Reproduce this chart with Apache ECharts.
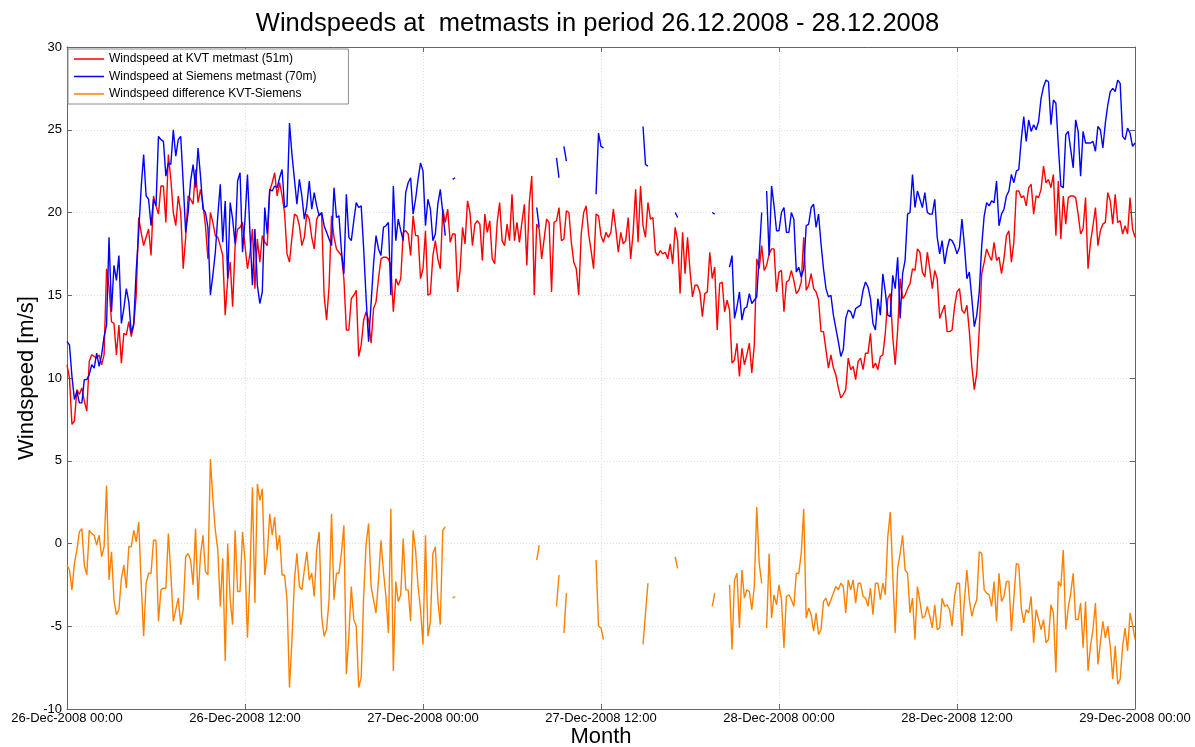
<!DOCTYPE html>
<html>
<head>
<meta charset="utf-8">
<script src="https://cdn.jsdelivr.net/npm/echarts@6/dist/echarts.min.js"></script>
<style>
  html, body { margin: 0; padding: 0; background: #fff; }
  #chart { width: 1195px; height: 747px; }
</style>
</head>
<body>
<div id="chart"></div>
<script>
// 10-minute wind speed samples, 26.12.2008 00:00 to 29.12.2008 00:00 (433 samples)
const _ = null; // missing sample
const sampleHours = 1 / 6;

const xTickLabels = ['26-Dec-2008 00:00', '26-Dec-2008 12:00', '27-Dec-2008 00:00',
  '27-Dec-2008 12:00', '28-Dec-2008 00:00', '28-Dec-2008 12:00', '29-Dec-2008 00:00'];

const seriesNames = ['Windspeed at KVT metmast (51m)', 'Windspeed at Siemens metmast (70m)',
  'Windspeed difference KVT-Siemens'];

// KVT metmast, 51 m
const kvt = [
  10.8,10.0,7.2,7.4,9.3,9.0,9.4,8.6,8.0,11.0, 11.4,11.3,11.2,11.4,10.8,11.4,16.6,15.5,13.4,13.3,
  11.4,13.2,10.9,12.7,12.6,13.4,12.5,13.2,15.0,19.7, 18.8,18.0,18.5,19.0,17.4,21.0,20.4,19.9,21.6,21.6,
  19.4,23.5,22.0,20.0,19.2,21.0,20.0,16.6,18.5,21.0, 20.8,20.5,22.6,20.6,21.4,20.5,19.2,17.2,20.0,19.4,
  18.6,18.5,18.0,17.4,13.8,16.0,17.0,14.3,18.0,19.0, 19.1,19.4,
  18.0,16.6,17.5,19.0,15.4,18.4,17.0,18.6,18.2,18.0, 21.3,21.8,22.4,21.0,21.8,21.0,20.0,17.5,17.0,18.5,
  19.9,19.8,19.2,18.0,18.5,19.9,19.6,18.5,17.8,19.6, 19.9,19.9,15.0,13.5,15.5,19.8,18.5,17.8,17.6,17.4,
  16.0,12.9,12.9,14.8,15.0,15.3,11.3,12.0,13.5,14.0, 13.5,12.1,14.2,14.6,16.0,17.2,17.3,17.3,17.2,16.8,
  14.0,16.0,15.6,16.0,18.8,18.9,18.7,17.4,19.8,18.6, 18.6,16.0,
  16.6,18.9,15.0,15.1,17.4,18.3,17.2,16.6,20.2,19.4, 20.2,18.2,18.7,18.7,15.2,16.5,19.1,18.1,20.7,20.0,
  18.0,19.3,19.5,19.3,17.1,19.9,18.8,19.5,17.2,16.9, 19.4,20.6,18.3,18.0,19.3,18.3,21.1,18.3,19.4,18.2,
  19.4,20.5,16.8,20.6,22.2,15.0,19.3,19.0,17.2,18.4, 19.6,19.4,15.2,19.4,19.5,20.3,18.3,18.4,20.1,20.0,
  18.2,17.0,16.6,15.0,18.7,20.0,20.4,18.7,17.7,16.6, 19.9,19.8,
  18.6,18.2,18.8,18.5,18.8,20.2,19.0,17.6,18.8,18.1, 18.3,19.7,17.2,18.8,21.4,18.2,21.6,19.2,18.5,20.6,
  19.6,19.7,17.6,17.4,17.7,17.5,17.6,17.2,18.1,16.9, 19.1,18.3,15.1,18.8,16.3,18.5,16.5,14.9,15.6,15.6,
  15.2,13.7,15.1,15.2,17.6,16.0,16.7,12.9,15.7,15.8, 14.0,14.7,14.1,10.9,11.1,12.1,10.1,11.8,10.8,11.4,
  12.1,10.3,12.0,17.2,16.6,18.0,16.5,16.8,17.5,17.8, 17.8,15.2,
  16.4,16.5,14.0,15.8,15.9,16.5,15.9,15.1,15.3,15.8, 18.5,15.3,15.6,16.3,15.4,15.2,14.7,12.8,12.8,11.7,
  10.6,11.4,10.6,10.2,9.4,8.8,9.0,9.3,11.2,10.5, 10.7,9.9,11.0,11.2,10.5,11.5,11.5,12.7,10.6,10.9,
  10.5,11.3,11.4,12.7,14.8,15.1,12.5,10.8,12.9,16.0, 14.8,15.0,15.4,15.7,16.6,16.5,17.8,17.6,16.4,16.1,
  17.6,16.6,15.4,16.5,16.0,13.6,14.0,14.4,12.8,12.8, 12.9,14.3,
  15.2,15.4,14.1,13.9,14.4,12.8,10.7,9.3,10.3,12.9, 16.3,17.0,17.8,17.4,17.1,18.2,17.1,17.3,16.3,17.2,
  18.6,18.9,17.0,18.2,21.3,21.3,20.9,21.0,20.4,21.5, 21.7,19.9,21.0,20.9,21.4,22.8,21.8,22.0,21.5,22.3,
  18.6,21.9,18.4,21.0,19.3,20.9,21.0,21.0,20.9,19.9, 18.7,19.0,20.9,16.6,18.2,19.2,20.3,18.0,18.9,19.3,
  19.4,21.2,20.7,19.3,21.1,19.4,19.5,18.7,19.2,18.7, 20.9,19.0,18.5
];

// Siemens metmast, 70 m
const siemens = [
  12.2,12.0,10.1,8.7,9.2,8.5,8.5,9.9,9.9,10.2, 10.8,10.6,11.5,10.7,11.4,12.5,13.2,18.5,14.0,16.8,
  15.9,17.4,13.3,14.2,15.4,14.6,12.7,13.3,16.5,18.8, 21.5,23.5,21.0,20.8,19.2,20.8,20.4,24.6,24.4,24.3,
  22.2,23.0,22.9,25.0,23.4,24.4,24.6,21.8,18.8,20.0, 21.9,22.9,21.5,23.9,22.2,20.2,20.0,19.1,15.0,16.2,
  17.6,19.8,21.7,18.2,20.7,16.0,20.6,19.6,18.1,21.9, 22.4,17.6,
  19.6,22.3,18.8,15.6,19.0,15.6,14.5,15.2,20.3,18.7, 21.4,21.3,21.6,21.5,22.1,22.6,20.3,20.4,25.4,23.5,
  22.0,20.5,22.0,21.0,19.6,20.4,21.9,20.2,21.2,20.4, 19.8,20.0,19.2,18.8,18.4,18.0,21.5,19.7,19.8,17.7,
  16.3,21.1,18.5,18.3,19.5,20.6,20.3,20.4,17.8,14.8, 12.2,14.5,16.9,18.6,17.8,17.4,19.1,19.2,19.4,15.0,
  21.6,18.3,19.6,18.9,18.3,21.2,21.8,22.1,19.9,20.8, 22.0,23.0,
  22.5,19.2,20.8,20.2,18.3,18.7,20.5,21.4,20.0,18.6, _,_, 22.0,22.1,
  _,_,_,_,_,_,_,_,_,_, _,_,_,_,_,_,_,_,_,_, _,_,_,_,_,_,_,_,_,_, _,_,
  20.3,19.1, _,_,_,_,_,_, 23.3,22.1, _, 24.0,23.1, _,_,_,_,_,_,_,_,_,_,_, 21.1,24.8,
  24.0,23.9, _,_,_,_,_,_,_,_,_,_,_,_,_,_,_, 25.2,22.9,22.8, _,_,_,_,_,_,_,_,_,_,
  20.0,19.7, _,_,_,_,_,_,_,_,_,_,_,_,_, 20.0,19.9, _,_,_,_,_,
  16.7,17.4,13.6,14.3,15.2,13.5,14.2,14.3,15.1,14.5,14.7,14.9,17.4,20.0, _, 21.3,17.4,21.6,20.4,18.9,
  18.9,20.0,20.3,18.8,18.8,20.0,19.6,16.4,16.7,16.1, 16.6,19.2,19.3,20.3,20.5,19.1,19.9,18.1,16.6,15.4,
  14.9,15.0,13.8,13.0,12.2,11.3,11.7,13.6,14.1,14.0, 13.6,14.2,14.3,14.4,15.3,15.8,15.5,14.8,13.3,12.9,
  14.8,13.8,16.3,15.2,13.8,13.7,16.2,15.4,17.3,13.6, 16.3,17.1,19.9,20.0,22.3,20.3,21.3,20.8,20.3,21.2,
  20.0,19.9,19.9,20.8,18.5,17.5,18.3,16.9,17.8,18.4, 18.3,18.0,
  17.5,17.9,19.6,18.0,16.0,16.4,14.8,13.1,13.8,15.2, 18.0,19.8,20.6,20.4,20.7,20.6,21.9,19.2,19.9,20.2,
  21.0,21.3,22.3,21.8,22.5,22.6,24.4,25.8,24.3,25.6, 24.9,25.3,25.0,25.5,26.9,27.6,28.0,27.9,25.3,26.8,
  26.6,24.0,21.6,21.5,24.7,24.9,23.8,22.7,25.6,24.9, 22.2,24.9,24.2,24.2,24.2,24.3,23.7,25.2,25.0,23.9,
  25.4,26.5,27.3,27.5,27.3,28.0,27.8,24.6,24.4,25.1, 24.8,24.0,24.2
];

// Difference KVT - Siemens
const difference = [
  -1.3,-1.6,-2.8,-1.2,-0.4,0.7,0.9,-1.3,-1.9,0.8, 0.6,0.5,-0.1,0.5,-0.8,-0.2,3.5,-2.2,-0.5,-3.4,
  -4.3,-4.0,-2.1,-1.3,-2.7,-0.2,-0.2,0.8,0.1,1.3, -2.4,-5.6,-2.4,-1.8,-1.8,0.2,0.2,-4.7,-2.8,-2.7,
  -2.7,0.6,-1.8,-4.7,-4.0,-3.3,-4.9,-4.0,-0.8,-0.6, -1.0,-2.5,0.9,-3.4,-0.7,0.5,-1.7,-1.9,5.1,2.7,
  0.8,-0.4,-3.8,-0.9,-7.1,0.0,-3.4,-4.9,0.8,-2.9, -2.9,0.7,
  -1.0,-5.7,-1.9,3.4,-3.6,3.6,2.6,3.3,-1.9,-0.7, 1.8,0.5,1.6,-0.4,0.5,-1.9,-1.9,-3.4,-8.7,-5.8,
  -2.2,-0.6,-2.6,-2.8,-1.6,-0.5,-2.2,-1.8,-3.2,-0.4, 0.7,-4.4,-5.6,-5.2,-3.4,1.8,-3.4,-1.8,-1.8,-0.6,
  1.1,-7.9,-5.6,-2.6,-4.6,-5.0,-8.7,-8.1,-3.2,0.0, 1.2,-2.6,-3.4,-4.2,-2.2,0.2,-1.7,-3.2,-5.4,2.1,
  -7.7,-2.3,-3.5,-3.1,0.3,-2.8,-2.8,-4.7,0.8,-0.4, -2.6,-4.0,
  -6.1,0.5,-5.6,-4.7,-0.6,-0.2,-3.4,-4.9,0.8,1.0, _,_, -3.3,-3.2,
  _,_,_,_,_,_,_,_,_,_, _,_,_,_,_,_,_,_,_,_, _,_,_,_,_,_,_,_,_,_, _,_,
  -1.0,-0.1, _,_,_,_,_,_, -3.8,-1.9, _, -5.4,-3.0, _,_,_,_,_,_,_,_,_,_,_, -1.0,-5.0,
  -5.1,-5.8, _,_,_,_,_,_,_,_,_,_,_,_,_,_,_, -6.1,-4.2,-2.4, _,_,_,_,_,_,_,_,_,_,
  -0.8,-1.5, _,_,_,_,_,_,_,_,_,_,_,_,_, -3.8,-3.0, _,_,_,_,_,
  -2.5,-6.4,-2.2,-1.8,-5.1,-1.6,-3.3,-2.8,-2.9,-4.0,-2.6,2.2,-1.2,-2.4, _, -5.1,-0.6,-4.5,-3.1,-3.7,
  -2.5,-3.4,-6.3,-3.2,-3.1,-3.4,-3.8,-1.8,-1.8,-0.6, 2.1,-4.5,-3.9,-4.3,-5.3,-4.2,-5.5,-5.2,-3.5,-3.3,
  -3.8,-3.4,-3.0,-2.6,-2.8,-2.4,-2.6,-4.2,-2.2,-2.8, -2.2,-3.6,-2.4,-2.4,-3.2,-3.3,-3.8,-2.7,-4.3,-2.4,
  -2.4,-3.4,-2.4,-3.1,0.4,1.9,-1.8,-5.4,-1.5,-0.6, 0.5,-1.6,-1.8,-4.2,-3.3,-5.8,-2.6,-3.5,-4.5,-4.4,
  -3.8,-4.4,-5.1,-3.7,-5.2,-5.1,-3.3,-3.8,-3.7,-4.0, -5.0,-3.2,
  -2.4,-2.4,-5.6,-3.4,-1.6,-3.4,-4.4,-3.8,-3.4,-0.5, -0.6,-2.8,-3.0,-3.1,-3.8,-2.3,-4.7,-1.8,-3.5,-3.2,
  -2.3,-2.3,-5.3,-3.3,-1.2,-1.3,-3.9,-4.8,-4.0,-4.2, -3.2,-6.0,-4.0,-4.6,-5.2,-4.6,-6.0,-5.8,-3.7,-4.2,
  -7.8,-2.3,-2.6,-0.4,-5.2,-3.9,-3.0,-1.8,-4.6,-4.6, -3.6,-6.3,-3.5,-7.7,-6.2,-5.2,-3.6,-7.3,-6.0,-4.7,
  -5.7,-5.0,-6.2,-8.2,-6.2,-8.5,-8.2,-6.2,-5.1,-6.5, -4.2,-4.9,-5.8
];

const colors = ['#ff0000', '#0000ff', '#ff8000'];
const FONT = '"Liberation Sans", Arial, Helvetica, sans-serif';

// [hours since start, value]; missing samples break the line
function toPoints(values) {
  return values.map((v, i) => [i * sampleHours, v === null ? '-' : v]);
}

const frameLine = { show: true, onZero: false, lineStyle: { color: '#666', width: 1 } };
const frameTick = { show: true, inside: true, length: 5, lineStyle: { color: '#666' } };
const gridLine = { show: true, lineStyle: { color: '#dcdcdc', type: [1, 2], width: 1 } };

const chart = echarts.init(document.getElementById('chart'), null, { renderer: 'canvas' });

chart.setOption({
  animation: false,
  backgroundColor: '#fff',
  textStyle: { fontFamily: FONT },
  title: {
    text: 'Windspeeds at  metmasts in period 26.12.2008 - 28.12.2008',
    left: 'center',
    top: 6,
    textStyle: { fontSize: 25.5, fontWeight: 'normal', color: '#000', fontFamily: FONT }
  },
  legend: {
    orient: 'vertical',
    left: 68,
    top: 49,
    icon: 'rect',
    itemWidth: 30,
    itemHeight: 1.5,
    itemGap: 3.5,
    padding: [3, 32, 3, 6],
    backgroundColor: '#fff',
    borderColor: '#8c8c8c',
    borderWidth: 1,
    textStyle: { fontSize: 12, color: '#000', lineHeight: 14, fontFamily: FONT },
    data: seriesNames
  },
  grid: { left: 67, right: 60, top: 47, bottom: 38, containLabel: false, outerBoundsMode: 'none' },
  xAxis: [{
    type: 'value',
    min: 0,
    max: 72,
    interval: 12,
    name: 'Month',
    nameLocation: 'middle',
    nameGap: 17,
    nameMoveOverlap: false,
    nameTextStyle: { fontSize: 22, color: '#000', fontFamily: FONT },
    axisLine: frameLine,
    axisTick: frameTick,
    axisLabel: {
      fontSize: 13, color: '#000', margin: 3, hideOverlap: false,
      showMinLabel: true, showMaxLabel: true,
      formatter: v => xTickLabels[Math.round(v / 12)]
    },
    splitLine: gridLine
  }, {
    type: 'value',
    position: 'top',
    min: 0,
    max: 72,
    interval: 12,
    axisLine: frameLine,
    axisTick: frameTick,
    axisLabel: { show: false },
    splitLine: { show: false }
  }],
  yAxis: [{
    type: 'value',
    min: -10,
    max: 30,
    interval: 5,
    name: 'Windspeed [m/s]',
    nameLocation: 'middle',
    nameRotate: 90,
    nameGap: 29,
    nameMoveOverlap: false,
    nameTextStyle: { fontSize: 22, color: '#000', fontFamily: FONT },
    axisLine: frameLine,
    axisTick: frameTick,
    axisLabel: { fontSize: 13, color: '#000', margin: 5 },
    splitLine: gridLine
  }, {
    type: 'value',
    position: 'right',
    min: -10,
    max: 30,
    interval: 5,
    axisLine: frameLine,
    axisTick: frameTick,
    axisLabel: { show: false },
    splitLine: { show: false }
  }],
  series: [kvt, siemens, difference].map((values, k) => ({
    name: seriesNames[k],
    type: 'line',
    xAxisIndex: 0,
    yAxisIndex: 0,
    data: toPoints(values),
    showSymbol: false,
    symbol: 'none',
    connectNulls: false,
    lineStyle: { color: colors[k], width: 1.4 },
    itemStyle: { color: colors[k] }
  }))
});
</script>
</body>
</html>
